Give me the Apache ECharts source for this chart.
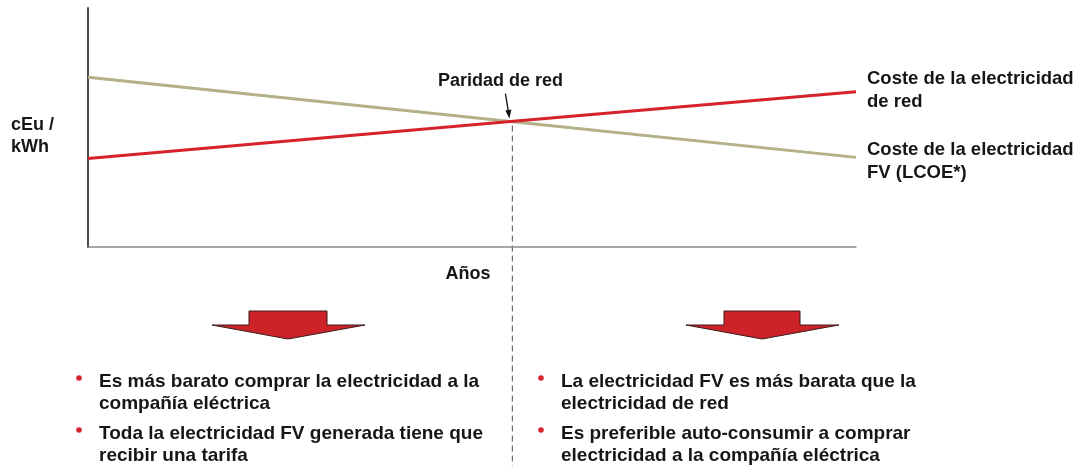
<!DOCTYPE html>
<html lang="es">
<head>
  <meta charset="UTF-8">
  <title>paridad-de-red</title>
  <style>
    html, body { margin:0; padding:0; background:#fff; }
    #chart { width:1083px; height:466px; }
  </style>
</head>
<body>
  <div id="chart"></div>
  <script src="https://cdn.jsdelivr.net/npm/echarts@6/dist/echarts.min.js"></script>
  <script>
    // años (eje x sin escala), punto de cruce en el año 11
    var years = [0, 11, 20]
    var gridCost = [37, 52.5, 65]
    var pvCost = [71, 52.5, 37.5]
    var parityYear = 11

    var leftBullets = [
      'Es más barato comprar la electricidad a la\ncompañía eléctrica',
      'Toda la electricidad FV generada tiene que\nrecibir una tarifa'
    ]
    var rightBullets = [
      'La electricidad FV es más barata que la\nelectricidad de red',
      'Es preferible auto-consumir a comprar\nelectricidad a la compañía eléctrica'
    ]

    var font = 'Liberation Sans, Arial, sans-serif'
    var txtColor = '#161616'

    function pairs(xs, ys) {
      return xs.map((x, i) => [x, ys[i]])
    }

    var myChart = echarts.init(document.getElementById('chart'))
    var option = {
      animation:false,
      grid:{ left:88, right:227, top:8, bottom:219 },
      xAxis:{
        type:'value',
        min:0,
        max:20,
        name:'Años',
        nameLocation:'middle',
        nameGap:18,
        nameTextStyle:{ fontFamily:font, fontWeight:'bold', fontSize:18, color:txtColor, padding:[0, 8, 0, 0] },
        axisLine:{ lineStyle:{ color:'#8a8a8a', width:1.5 } },
        axisTick:{ show:false },
        axisLabel:{ show:false },
        splitLine:{ show:false }
      },
      yAxis:{
        type:'value',
        min:0,
        max:100,
        axisLine:{ show:true, lineStyle:{ color:'#4a4a4a', width:2 } },
        axisTick:{ show:false },
        axisLabel:{ show:false },
        splitLine:{ show:false }
      },
      series:[
        {
          name:'Coste FV',
          type:'line',
          data:pairs(years, pvCost),
          symbol:'none',
          lineStyle:{ color:'#b4b088', width:3 },
          endLabel:{
            show:true,
            formatter:'Coste de la electricidad\nFV (LCOE*)',
            distance:11,
            offset:[0, 4],
            fontFamily:font, fontWeight:'bold', fontSize:18.5, lineHeight:23, color:txtColor
          }
        },
        {
          name:'Coste red',
          type:'line',
          data:pairs(years, gridCost),
          symbol:'none',
          lineStyle:{ color:'#d5222b', width:3 },
          endLabel:{
            show:true,
            formatter:'Coste de la electricidad\nde red',
            distance:11,
            offset:[0, -1],
            fontFamily:font, fontWeight:'bold', fontSize:18.5, lineHeight:23, color:txtColor
          }
        }
      ]
    }
    myChart.setOption(option)

    // elementos anotados a partir del punto de paridad
    var cross = myChart.convertToPixel({ gridIndex:0 }, [parityYear, gridCost[1]])
    var cx = cross[0], cy = cross[1]

    function bulletGroup(x, y, items) {
      var els = []
      items.forEach((t, i) => {
        var top = y + i * 52
        els.push({
          type:'circle',
          shape:{ cx:x, cy:top + 7, r:2.8 },
          style:{ fill:'#d5222b' }
        })
        els.push({
          type:'text',
          x:x + 20,
          y:top,
          style:{
            text:t,
            fontFamily:font, fontWeight:'bold', fontSize:19, lineHeight:22,
            fill:txtColor, textVerticalAlign:'top'
          }
        })
      })
      return els
    }

    function downArrow(x0, x1, w0, w1, tipX) {
      return {
        type:'polygon',
        shape:{ points:[[x0, 311], [x1, 311], [x1, 325], [w1, 325], [tipX, 339], [w0, 325], [x0, 325]] },
        style:{ fill:'#cd2228', stroke:'#3a1a1a', lineWidth:1 }
      }
    }

    var graphics = [
      {
        type:'line',
        shape:{ x1:cx + 2, y1:cy + 4, x2:cx + 2, y2:466 },
        style:{ stroke:'#6e6e6e', lineWidth:1.2, lineDash:[6, 4] }
      },
      {
        type:'text',
        x:cx - 10,
        y:cy - 40,
        style:{
          text:'Paridad de red',
          fontFamily:font, fontWeight:'bold', fontSize:18,
          fill:txtColor, textAlign:'center', textVerticalAlign:'middle'
        }
      },
      {
        type:'line',
        shape:{ x1:cx - 5, y1:cy - 28, x2:cx - 2, y2:cy - 10 },
        style:{ stroke:'#111', lineWidth:1.3 }
      },
      {
        type:'polygon',
        shape:{ points:[[cx - 5, cy - 11], [cx + 1, cy - 12], [cx - 1, cy - 3]] },
        style:{ fill:'#111' }
      },
      {
        type:'text',
        x:11,
        y:114,
        style:{
          text:'cEu /\nkWh',
          fontFamily:font, fontWeight:'bold', fontSize:18, lineHeight:22,
          fill:txtColor, textVerticalAlign:'top'
        }
      },
      downArrow(249, 327, 212, 365, 288),
      downArrow(724, 800, 686, 839, 762)
    ]
    graphics = graphics.concat(bulletGroup(79, 371, leftBullets), bulletGroup(541, 371, rightBullets))

    myChart.setOption({ graphic:graphics })
  </script>
</body>
</html>
